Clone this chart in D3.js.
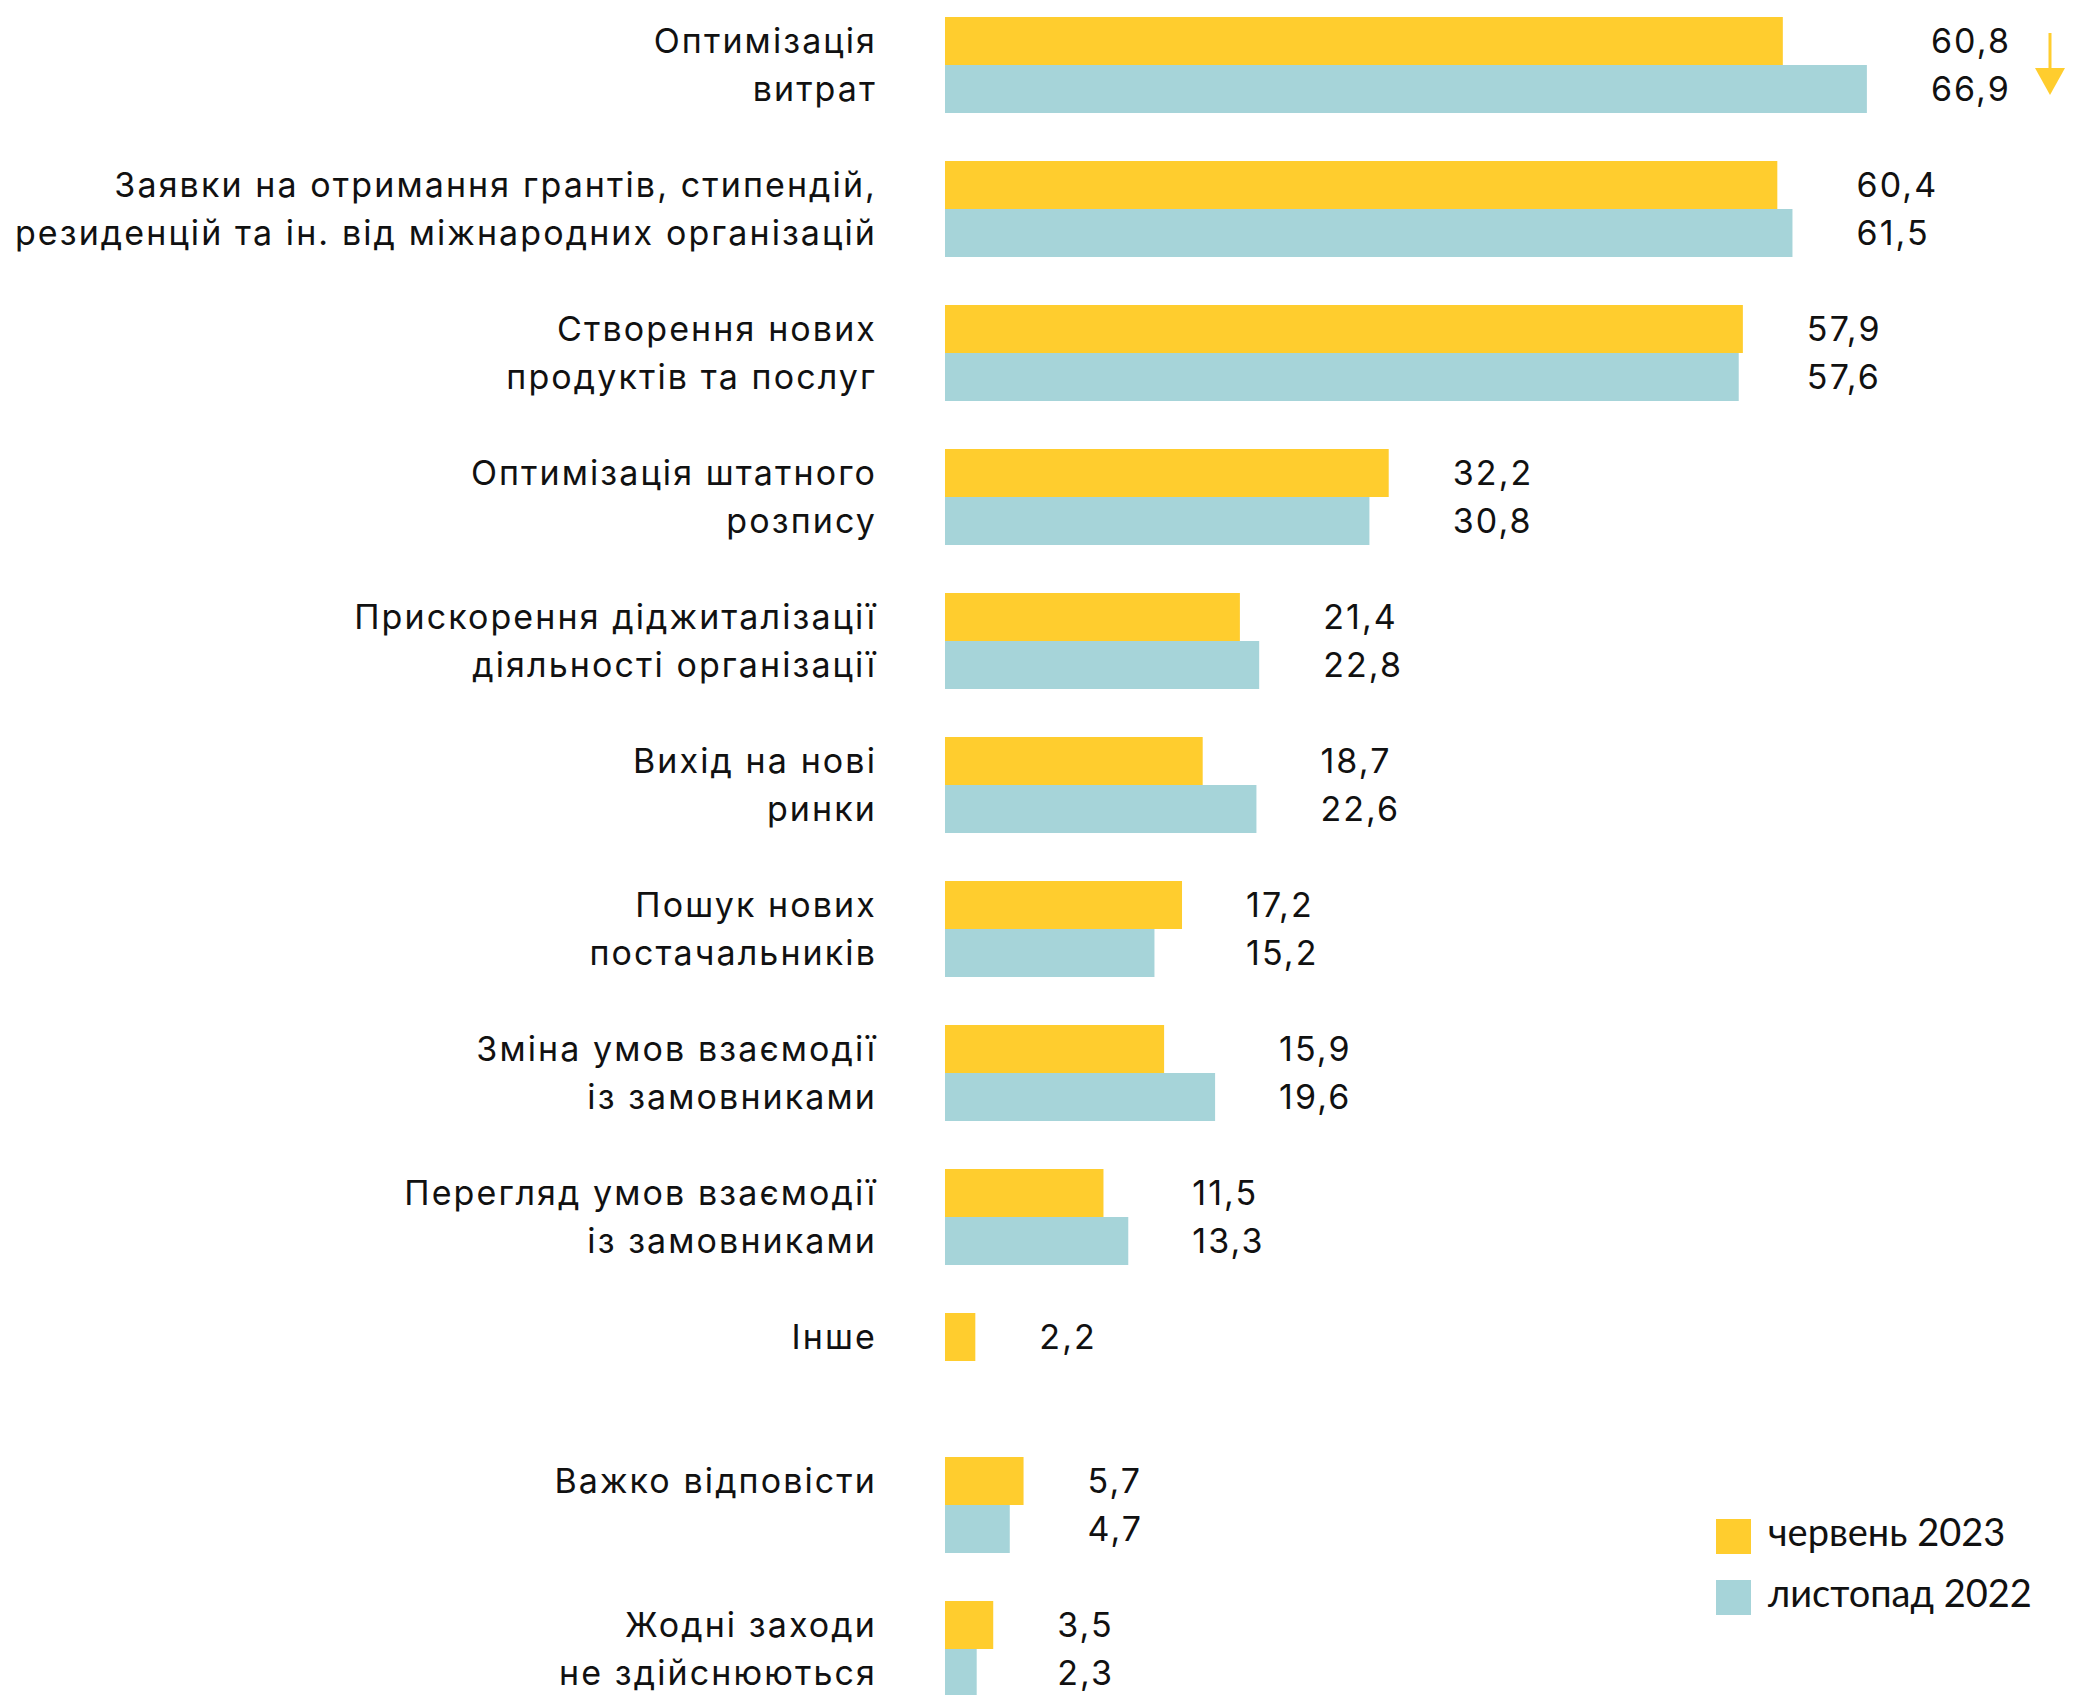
<!DOCTYPE html>
<html>
<head>
<meta charset="utf-8">
<script src="https://cdn.jsdelivr.net/npm/d3@7/dist/d3.min.js"></script>
<style>
  body { margin: 0; background: #fff; }
  svg { display: block; }
  .lbl { font-family: Inter, "Noto Sans", sans-serif; font-size: 34px; letter-spacing: 2.1px; fill: #111; }
  .leg { font-family: Lato, "Noto Sans", sans-serif; font-size: 38px; fill: #111; }
</style>
</head>
<body>
<div id="chart"></div>
<script>
// категорії (рядки підпису)
var categories = [
  ["Оптимізація", "витрат"],
  ["Заявки на отримання грантів, стипендій,", "резиденцій та ін. від міжнародних організацій"],
  ["Створення нових", "продуктів та послуг"],
  ["Оптимізація штатного", "розпису"],
  ["Прискорення діджиталізації", "діяльності організації"],
  ["Вихід на нові", "ринки"],
  ["Пошук нових", "постачальників"],
  ["Зміна умов взаємодії", "із замовниками"],
  ["Перегляд умов взаємодії", "із замовниками"],
  ["Інше"],
  ["Важко відповісти"],
  ["Жодні заходи", "не здійснюються"]
];
var june2023 = [60.8, 60.4, 57.9, 32.2, 21.4, 18.7, 17.2, 15.9, 11.5, 2.2, 5.7, 3.5];
var nov2022  = [66.9, 61.5, 57.6, 30.8, 22.8, 22.6, 15.2, 19.6, 13.3, null, 4.7, 2.3];
var seriesNames = ["червень 2023", "листопад 2022"];
var colors = ["#ffcd2e", "#a6d4d9"];

var W = 2081, H = 1695;
var svg = d3.select("#chart").append("svg")
  .attr("width", W).attr("height", H);

var rows = categories.map(function(c, i){
  return {i: i, lines: c, vals: [june2023[i], nov2022[i]]};
});

var y = d3.scaleBand()
  .domain(d3.range(categories.length))
  .range([17, 17 + 144 * (categories.length - 1) + 96])
  .paddingInner(1/3)
  .paddingOuter(0);

var y1 = d3.scaleBand()
  .domain([0, 1])
  .range([0, y.bandwidth()]);

var x = d3.scaleLinear()
  .domain([0, 70])
  .range([945, 945 + 70 * 13.78]);

var fmt = function(v){ return d3.format(".1f")(v).replace(".", ","); };

var g = svg.selectAll("g.row")
  .data(rows)
  .enter()
  .append("g")
  .attr("class", "row")
  .attr("transform", function(d){ return "translate(0," + y(d.i) + ")"; });

// бари
g.selectAll("rect")
  .data(function(d){
    return d.vals.map(function(v, k){ return {k: k, v: v}; })
      .filter(function(e){ return e.v != null; });
  })
  .enter()
  .append("rect")
  .attr("x", x(0))
  .attr("y", function(e){ return y1(e.k); })
  .attr("width", function(e){ return x(e.v) - x(0); })
  .attr("height", y1.bandwidth())
  .attr("fill", function(e){ return colors[e.k]; });

// підписи категорій
g.selectAll("text.cat")
  .data(function(d){ return d.lines; })
  .enter()
  .append("text")
  .attr("class", "lbl cat")
  .attr("text-anchor", "end")
  .attr("x", 877)
  .attr("y", function(t, k){ return y1(k) + y1.bandwidth() / 2; })
  .attr("dy", "0.36em")
  .text(function(t){ return t; });

// значення
g.each(function(d){
  var maxV = d3.max(d.vals);
  var lx = x(maxV) + 64;
  d3.select(this).selectAll("text.val")
    .data(d.vals.map(function(v, k){ return {k: k, v: v}; })
      .filter(function(e){ return e.v != null; }))
    .enter()
    .append("text")
    .attr("class", "lbl val")
    .attr("x", lx)
    .attr("y", function(e){ return y1(e.k) + y1.bandwidth() / 2; })
    .attr("dy", "0.36em")
    .text(function(e){ return fmt(e.v); });
});

// стрілка
var arrow = svg.append("g").attr("fill", colors[0]).attr("stroke", colors[0]);
arrow.append("line")
  .attr("x1", 2050).attr("x2", 2050)
  .attr("y1", 33).attr("y2", 72)
  .attr("stroke-width", 3);
arrow.append("path")
  .attr("stroke", "none")
  .attr("d", "M2035,68 L2065,68 L2050,95 Z");

// легенда
var leg = svg.append("g")
  .attr("transform", "translate(1716,1519)");
leg.selectAll("rect")
  .data(seriesNames)
  .enter()
  .append("rect")
  .attr("x", 0)
  .attr("y", function(s, k){ return k * 61; })
  .attr("width", 35)
  .attr("height", 35)
  .attr("fill", function(s, k){ return colors[k]; });
leg.selectAll("text")
  .data(seriesNames)
  .enter()
  .append("text")
  .attr("class", "leg")
  .attr("x", 52)
  .attr("y", function(s, k){ return k * 61 + 27; })
  .text(function(s){ return s; });
</script>
</body>
</html>
